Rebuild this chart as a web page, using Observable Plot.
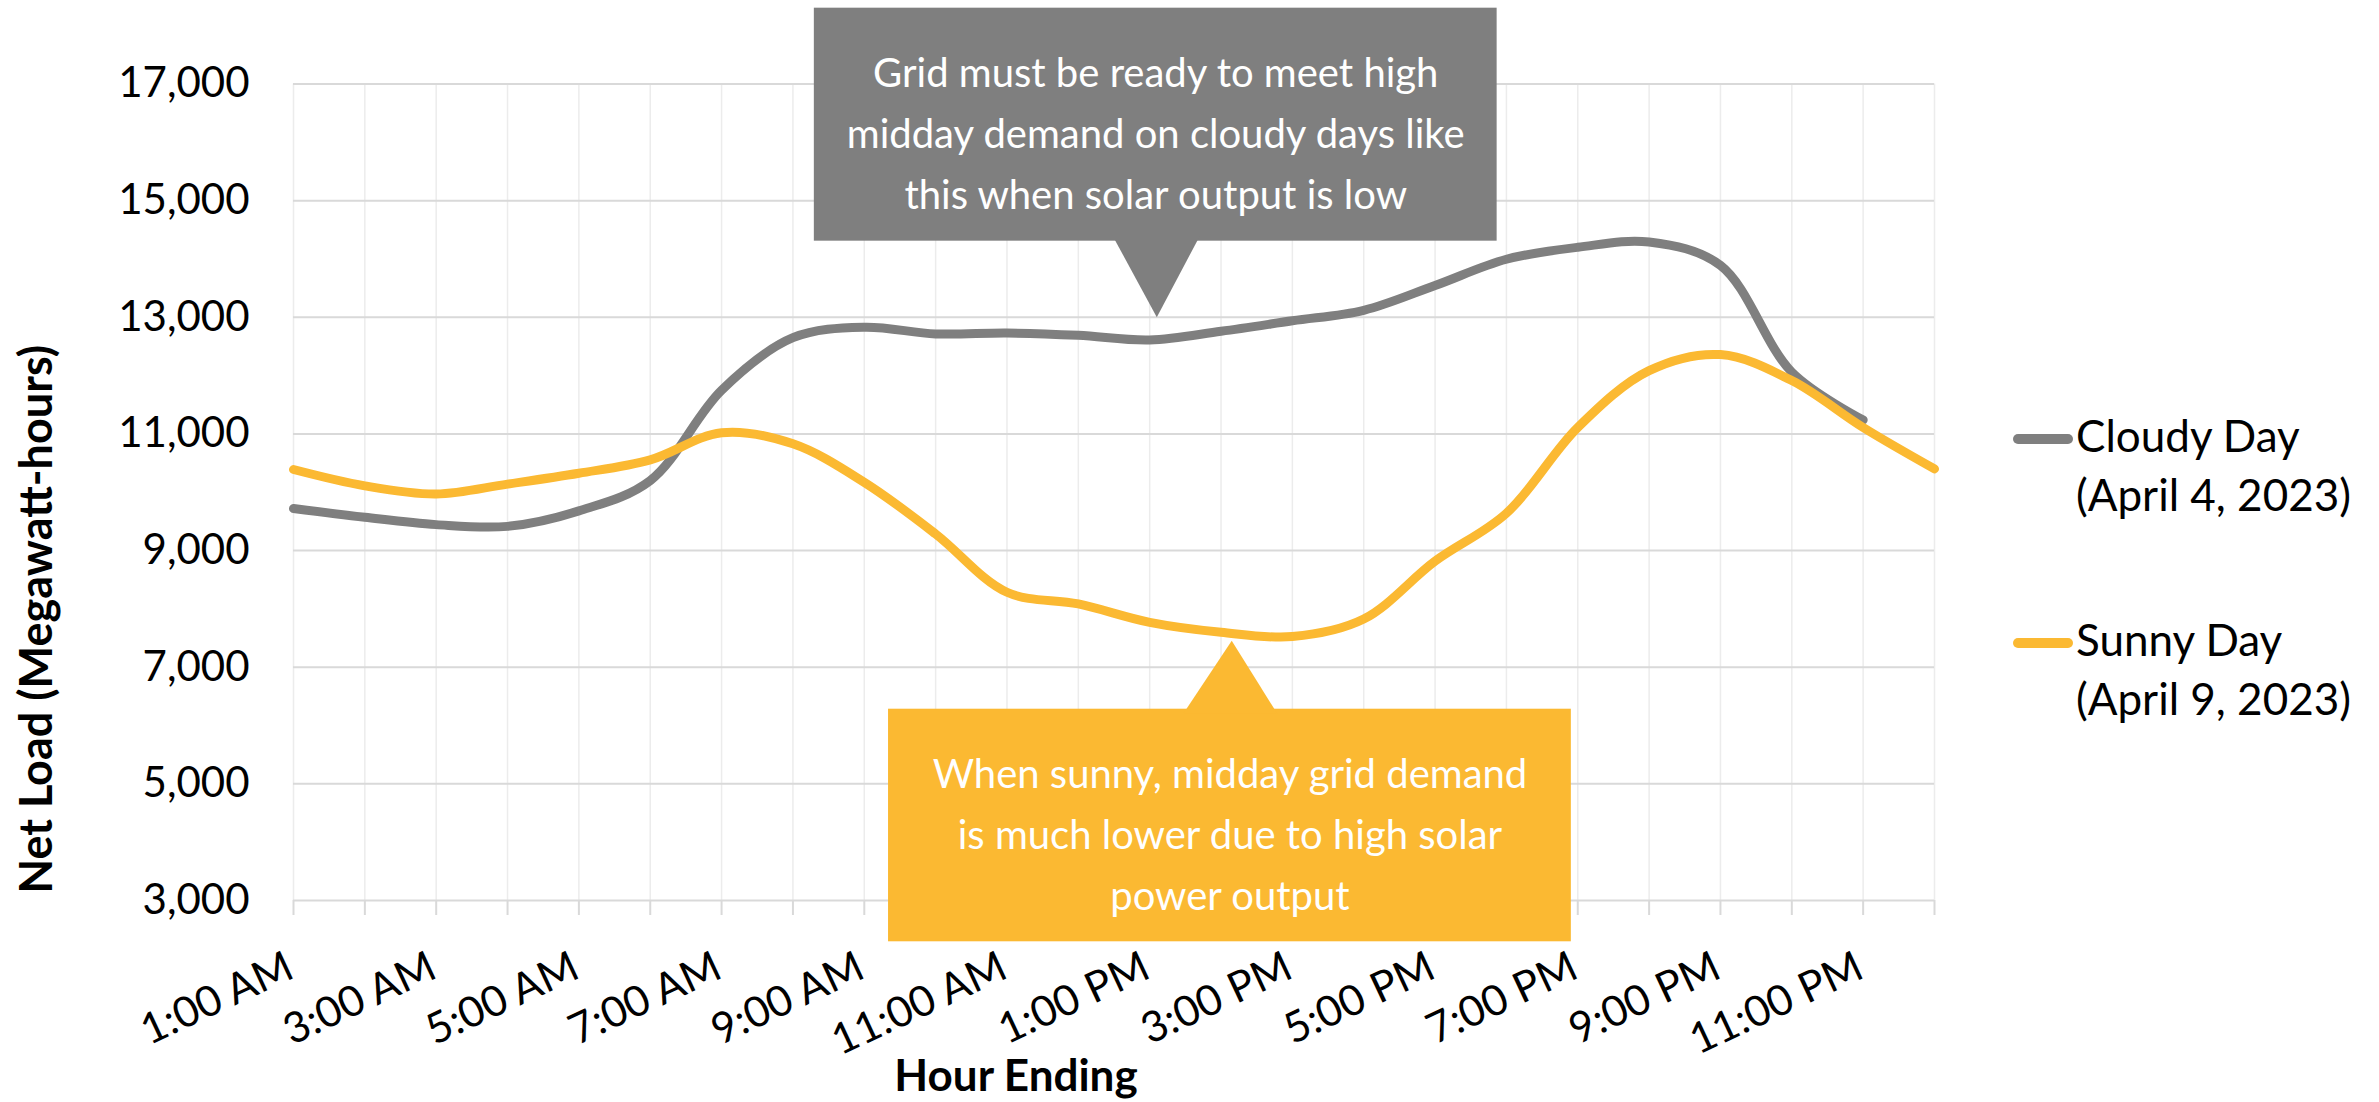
<!DOCTYPE html>
<html>
<head>
<meta charset="utf-8">
<script src="https://cdn.jsdelivr.net/npm/d3@7"></script>
<script src="https://cdn.jsdelivr.net/npm/@observablehq/plot@0.6"></script>
<style>
  html, body { margin: 0; padding: 0; background: #fff; overflow: hidden; }
  #wrap { position: relative; width: 2379px; height: 1102px; font-family: Lato, sans-serif; }
  #wrap svg { position: absolute; left: 0; top: 0; }
  .entry { position: absolute; left: 2013px; display: flex; align-items: flex-start; font-size: 44px; line-height: 59px; color: #000; white-space: nowrap; }
  .sw { width: 60px; height: 10px; border-radius: 5px; margin-top: 28px; margin-right: 3px; flex: none; }
</style>
</head>
<body>
<div id="wrap"></div>
<script>
// ---- data ----
const hourLabels = ["1:00 AM","2:00 AM","3:00 AM","4:00 AM","5:00 AM","6:00 AM","7:00 AM","8:00 AM","9:00 AM","10:00 AM","11:00 AM","12:00 PM",
                    "1:00 PM","2:00 PM","3:00 PM","4:00 PM","5:00 PM","6:00 PM","7:00 PM","8:00 PM","9:00 PM","10:00 PM","11:00 PM","12:00 AM"];
const cloudyValues = [9720, 9570, 9445, 9415, 9680, 10200, 11750, 12650, 12830, 12715, 12730, 12690,
                      12610, 12760, 12940, 13120, 13545, 13995, 14200, 14290, 13890, 12060, 11240];
const sunnyValues  = [10390, 10110, 9970, 10140, 10325, 10555, 11020, 10830, 10170, 9285, 8285, 8085,
                      7770, 7600, 7525, 7826, 8818, 9640, 11110, 12085, 12360, 11915, 11110, 10400];
const yTicks = [3000, 5000, 7000, 9000, 11000, 13000, 15000, 17000];
const labelledHours = ["1:00 AM","3:00 AM","5:00 AM","7:00 AM","9:00 AM","11:00 AM","1:00 PM","3:00 PM","5:00 PM","7:00 PM","9:00 PM","11:00 PM"];
const seriesNames = ["Cloudy Day\n(April 4, 2023)", "Sunny Day\n(April 9, 2023)"];
const seriesColors = ["#7f7f7f", "#fbb932"];

// callout anchors in data units (hour position, net load)
const cloudyNote = {
  lines: ["Grid must be ready to meet high", "midday demand on cloudy days like", "this when solar output is low"],
  box: {x1: 8.30, x2: 17.87, y1: 14305, y2: 18300},
  pointer: [[12.48, 14400], [13.10, 13000], [13.705, 14400]]
};
const sunnyNote = {
  lines: ["When sunny, midday grid demand", "is much lower due to high solar", "power output"],
  box: {x1: 9.34, x2: 18.91, y1: 2292, y2: 6280},
  pointer: [[13.47, 6200], [14.15, 7455], [14.79, 6200]]
};

// ---- build rows ----
const hourPos = hourLabels.map((_, i) => i + 1);
const cloudyRows = cloudyValues.map((v, i) => ({hour: i + 1, value: v}));
const sunnyRows = sunnyValues.map((v, i) => ({hour: i + 1, value: v}));
const labelPos = labelledHours.map(l => hourLabels.indexOf(l) + 1);

function noteMarks(note, color) {
  const b = note.box;
  return [
    Plot.rect([b], {x1: "x1", x2: "x2", y1: "y1", y2: "y2", fill: color}),
    Plot.line(note.pointer, {x: d => d[0], y: d => d[1], fill: color, stroke: "none", curve: "linear-closed"}),
    Plot.text([note.lines.join("\n")], {
      x: (b.x1 + b.x2) / 2, y: (b.y1 + b.y2) / 2, fill: "white", fontSize: 40,
      lineHeight: 61 / 40, lineAnchor: "middle", textAnchor: "middle", dy: 4
    })
  ];
}

const chart = Plot.plot({
  width: 2379,
  height: 1102,
  marginLeft: 293,
  marginRight: 445,
  marginTop: 83.5,
  marginBottom: 202,
  style: {fontFamily: "Lato, sans-serif", fontSize: "42px", color: "#000", background: "transparent", overflow: "visible"},
  x: {type: "linear", domain: [1, 24], axis: null},
  y: {domain: [3000, 17000], axis: null},
  marks: [
    Plot.gridX(hourPos, {stroke: "#ececec", strokeOpacity: 1, strokeWidth: 1.5}),
    Plot.gridY(yTicks, {stroke: "#d9d9d9", strokeOpacity: 1, strokeWidth: 2}),
    Plot.axisX(hourPos, {tickSize: 15, stroke: "#d9d9d9", strokeWidth: 2, tickFormat: () => "", label: null}),
    Plot.axisY(yTicks, {tickSize: 0, tickPadding: 44, tickFormat: d3.format(","), fontSize: 42, label: null}),
    Plot.axisX(labelPos, {tickSize: 0, tickRotate: -25, tickPadding: 64, dx: -3, fontSize: 42.5,
                          tickFormat: h => hourLabels[h - 1], label: null}),
    Plot.line(cloudyRows, {x: "hour", y: "value", stroke: seriesColors[0], strokeWidth: 9, curve: "catmull-rom"}),
    Plot.line(sunnyRows, {x: "hour", y: "value", stroke: seriesColors[1], strokeWidth: 9, curve: "catmull-rom"}),
    ...noteMarks(cloudyNote, "#7f7f7f"),
    ...noteMarks(sunnyNote, "#fbb932"),
    Plot.text(["Net Load (Megawatt-hours)"], {frameAnchor: "left", rotate: -90, dx: -256, dy: 127,
                                              fontWeight: "bold", fontSize: 45, textAnchor: "middle"}),
    Plot.text(["Hour Ending"], {frameAnchor: "bottom", dx: -98, dy: 190, fontWeight: "bold", fontSize: 44, textAnchor: "middle"})
  ]
});

const wrap = document.getElementById("wrap");
wrap.appendChild(chart);

// legend (right of plot)
const legendTops = [406, 610];
seriesNames.forEach((name, i) => {
  const e = document.createElement("div");
  e.className = "entry";
  e.style.top = legendTops[i] + "px";
  const sw = document.createElement("div");
  sw.className = "sw";
  sw.style.background = seriesColors[i];
  const t = document.createElement("div");
  t.innerHTML = name.split("\n").join("<br>");
  e.appendChild(sw);
  e.appendChild(t);
  wrap.appendChild(e);
});
</script>
</body>
</html>
